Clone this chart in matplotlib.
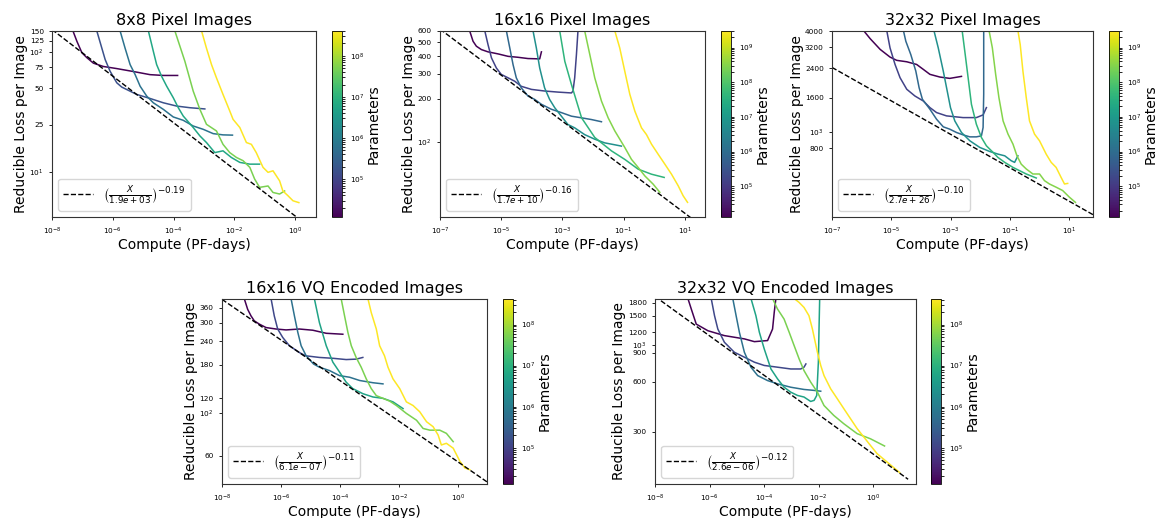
import matplotlib
matplotlib.use('Agg')
import matplotlib.pyplot as plt
from matplotlib.colors import LogNorm
import matplotlib.ticker as mticker
import numpy as np

# ---------------- data ----------------
titles = ['8x8 Pixel Images', '16x16 Pixel Images', '32x32 Pixel Images',
          '16x16 VQ Encoded Images', '32x32 VQ Encoded Images']

# model sizes (parameters) of the curves in each panel
p1_params = [1.2e4, 1.6e5, 6e5, 6e6, 5e7, 4e8]
p2_params = [1.3e4, 1.5e5, 8e5, 6e6, 4e7, 3e8, 3e9]
p3_params = [1.3e4, 1.5e5, 8e5, 6e6, 4e7, 3e8, 3e9]
p4_params = [1.3e4, 1.25e5, 6e5, 5.4e6, 5.2e7, 4.2e8]
p5_params = [1.3e4, 1.25e5, 6e5, 5.4e6, 5.2e7, 4.2e8]

# ---- panel 1: 8x8 pixel ----
p1_compute = [
    [4.9e-8, 6.6e-8, 9.6e-8, 1.4e-7, 2.3e-7, 4.9e-7, 1.35e-6, 4.75e-6, 1.67e-5, 4.6e-5, 1.35e-4],
    [2.98e-7, 5.6e-7, 8.1e-7, 1.35e-6, 1.97e-6, 6.1e-6, 1.67e-5, 4.6e-5, 1.25e-4, 3.4e-4, 1.06e-3],
    [1.74e-6, 2.53e-6, 3.7e-6, 5.4e-6, 7.9e-6, 1.3e-5, 2.15e-5, 4.6e-5, 9.7e-5, 2.07e-4, 4.4e-4,
     9.4e-4, 1.99e-3, 4.2e-3, 8.6e-3],
    [1.48e-5, 2.15e-5, 2.76e-5, 4.0e-5, 5.9e-5, 9.7e-5, 1.42e-4, 2.07e-4, 4.4e-4, 7.3e-4, 1.2e-3,
     2.26e-3, 4.2e-3, 7.9e-3, 1.5e-2, 3.2e-2, 6.7e-2],
    [1.1e-4, 2.34e-4, 4.4e-4, 7.3e-4, 1.2e-3, 2.56e-3, 4.2e-3, 7.0e-3, 1.16e-2, 1.92e-2, 3.2e-2,
     4.6e-2, 6.7e-2, 0.127, 0.185, 0.305, 0.446],
    [8.3e-4, 1.2e-3, 1.76e-3, 2.56e-3, 4.2e-3, 7.0e-3, 9.0e-3, 1.5e-2, 2.47e-2, 3.6e-2, 5.2e-2,
     8.7e-2, 0.127, 0.185, 0.305, 0.39, 0.57, 0.84, 1.31],
]
p1_loss = [
    [150, 123, 99, 90, 81, 76, 73, 69, 65, 64, 64],
    [150, 86.8, 69.5, 55.6, 51.2, 44.5, 41.2, 37.9, 35.6, 34.5, 33.7],
    [150, 108, 78.8, 65.2, 52.1, 43.1, 37.9, 33.4, 28.9, 27.1, 24.3, 22.8, 21.0, 20.5, 20.4],
    [150, 101.6, 78.8, 63.1, 52.1, 41.8, 34.5, 29.4, 23.6, 20.1, 17.7, 14.6, 15.1, 13.3, 12.1, 11.7, 11.7],
    [150, 84, 47.4, 33.4, 25.1, 22.1, 17.1, 14.6, 13.3, 12.5, 11.0, 8.8, 7.5, 7.7, 6.8, 6.6, 7.0],
    [150, 108, 78.8, 61.1, 44.5, 32.4, 27.6, 23.6, 17.7, 17.1, 14.6, 11.0, 10.0, 10.3, 8.5, 7.0,
     6.4, 5.8, 5.6],
]

# ---- panel 2: 16x16 pixel ----
p2_compute = [
    [9.3e-7, 1.2e-6, 1.54e-6, 2.25e-6, 3.7e-6, 7.9e-6, 1.67e-5, 3.5e-5, 7.5e-5, 1.8e-4, 2.05e-4],
    [2.9e-6, 3.7e-6, 4.8e-6, 6.9e-6, 1.0e-5, 1.67e-5, 2.75e-5, 4.5e-5, 9.7e-5, 2.6e-4, 7.2e-4,
     1.96e-3, 2.2e-3, 2.5e-3, 2.85e-3, 3.2e-3],
    [1.47e-5, 1.9e-5, 2.43e-5, 3.1e-5, 4.5e-5, 7.5e-5, 1.24e-4, 2.05e-4, 4.3e-4, 9.2e-4, 1.96e-3,
     4.2e-3, 8.8e-3, 1.87e-2],
    [1.09e-4, 1.4e-4, 1.8e-4, 2.6e-4, 3.8e-4, 5.6e-4, 9.2e-4, 1.5e-3, 2.5e-3, 5.3e-3, 1.13e-2,
     2.4e-2, 5.1e-2, 8.4e-2],
    [8.1e-4, 1.19e-3, 1.96e-3, 4.2e-3, 1.13e-2, 4.0e-2, 0.108, 0.296, 0.805, 2.09],
    [5.3e-3, 7.8e-3, 1.13e-2, 1.87e-2, 3.1e-2, 5.1e-2, 0.108, 0.179, 0.296, 0.488, 0.914, 1.51],
    [5.1e-2, 7.4e-2, 0.108, 0.158, 0.23, 0.38, 0.553, 0.805, 1.33, 2.2, 3.63, 6.0, 8.7, 12.1],
]
p2_loss = [
    [602, 508, 469, 444, 428, 414, 398, 392, 384, 382, 428],
    [602, 481, 388, 330, 297, 281, 266, 245, 233, 227, 223, 220, 227, 281, 409, 602],
    [602, 456, 348, 281, 239, 209, 198, 183, 169, 160, 151, 147, 143, 138],
    [602, 456, 330, 239, 198, 173, 151, 132, 125, 112, 104, 98, 95, 93],
    [602, 367, 252, 147, 107, 86, 75, 64, 59, 56],
    [602, 409, 281, 193, 147, 119, 91, 75, 65.8, 57.4, 50.2, 44],
    [602, 456, 313, 215, 164, 125, 112, 96, 81.5, 69.4, 59, 48.9, 41.6, 37.4],
]

# ---- panel 3: 32x32 pixel ----
p3_compute = [
    [1.15e-6, 1.93e-6, 4.2e-6, 9.0e-6, 1.51e-5, 3.3e-5, 7.1e-5, 1.19e-4, 1.99e-4, 4.3e-4, 9.3e-4, 2.3e-3],
    [6.98e-6, 9.0e-6, 1.33e-5, 1.96e-5, 3.3e-5, 6.2e-5, 1.19e-4, 1.99e-4, 3.33e-4, 7.2e-4, 2.6e-3,
     7.3e-3, 1.23e-2, 1.59e-2],
    [2.54e-5, 3.07e-5, 4.5e-5, 6.65e-5, 8.6e-5, 1.11e-4, 1.99e-4, 3.33e-4, 5.6e-4, 9.3e-4, 1.56e-3,
     2.6e-3, 4.4e-3, 7.3e-3, 1.08e-2, 1.23e-2, 1.29e-2, 1.29e-2],
    [2.71e-4, 3.79e-4, 5.6e-4, 7.6e-4, 9.8e-4, 1.37e-3, 2.3e-3, 4.4e-3, 9.5e-3, 2.06e-2, 3.9e-2,
     6.6e-2, 0.109, 0.142, 0.183],
    [2.42e-3, 2.97e-3, 3.85e-3, 4.98e-3, 7.3e-3, 1.08e-2, 1.59e-2, 2.66e-2, 3.9e-2, 6.6e-2, 0.125,
     0.209, 0.35, 0.76],
    [1.95e-2, 2.52e-2, 3.26e-2, 4.2e-2, 5.8e-2, 8.5e-2, 0.125, 0.17, 0.237, 0.35, 0.585, 0.98, 1.44,
     2.12, 3.55, 5.9, 9.95, 15.9],
    [0.183, 0.219, 0.27, 0.35, 0.45, 0.665, 0.98, 1.64, 2.42, 3.55, 5.2, 6.8, 8.7],
]
p3_loss = [
    [4030, 3600, 3105, 2795, 2672, 2620, 2525, 2360, 2204, 2124, 2085, 2143],
    [4030, 3175, 2525, 2105, 1795, 1637, 1528, 1395, 1303, 1245, 1216, 1216, 1262, 1395],
    [4030, 3475, 2897, 2307, 1835, 1565, 1364, 1189, 1071, 1037, 991, 959, 933, 933, 946, 1061, 1675, 4030],
    [4030, 3175, 2307, 1754, 1395, 1162, 991, 884, 807, 763, 736, 719, 672, 657, 719],
    [4030, 3035, 2105, 1460, 1110, 925, 825, 754, 703, 657, 613, 586, 560, 530],
    [4030, 3175, 2204, 1600, 1162, 969, 844, 719, 641, 600, 560, 560, 511, 488, 467, 446, 407, 379],
    [4030, 3320, 2307, 1600, 1162, 969, 884, 736, 657, 613, 535, 488, 492],
]

# ---- panel 4: 16x16 VQ ----
p4_compute = [
    [5.7e-8, 7.4e-8, 9.6e-8, 1.24e-7, 1.84e-7, 3.1e-7, 6.8e-7, 1.48e-6, 4.2e-6, 1.19e-5, 3.4e-5, 1.24e-4],
    [4.6e-7, 5.9e-7, 7.7e-7, 1.14e-6, 1.92e-6, 4.2e-6, 6.8e-6, 2.0e-5, 5.7e-5, 1.61e-4, 3.5e-4, 5.9e-4],
    [2.19e-6, 2.84e-6, 3.7e-6, 4.8e-6, 7.1e-6, 1.26e-5, 2.0e-5, 4.4e-5, 9.6e-5, 2.1e-4, 4.6e-4,
     1.3e-3, 2.84e-3],
    [1.35e-5, 2.0e-5, 3.4e-5, 5.7e-5, 9.6e-5, 1.61e-4, 2.7e-4, 5.9e-4, 1.3e-3, 2.84e-3, 6.2e-3, 1.36e-2],
    [1.09e-4, 1.42e-4, 1.84e-4, 2.4e-4, 3.5e-4, 5.2e-4, 7.7e-4, 1.14e-3, 1.69e-3, 2.84e-3, 4.8e-3,
     8.1e-3, 1.76e-2, 3.9e-2, 6.5e-2, 0.11, 0.239, 0.40, 0.68],
    [8.8e-4, 1.14e-3, 1.69e-3, 2.19e-3, 3.2e-3, 4.2e-3, 6.2e-3, 1.05e-2, 1.76e-2, 2.97e-2, 5.0e-2,
     8.5e-2, 0.142, 0.21, 0.27, 0.40, 0.68, 1.15, 1.69, 2.5],
]
p4_loss = [
    [401, 353, 326, 307, 295, 283, 278, 275, 278, 274, 264, 261],
    [401, 326, 278, 251, 227, 209, 201, 197, 195, 192, 193, 197],
    [401, 326, 267, 227, 201, 182, 175, 168, 158, 155, 149, 145, 143],
    [401, 300, 227, 186, 165, 146, 135, 127, 122, 120, 115, 106],
    [401, 326, 267, 227, 197, 175, 152, 135, 124, 120, 116, 110, 100, 92, 83.3, 81.6, 81.6, 78.5, 71],
    [401, 339, 278, 227, 201, 175, 152, 135, 115, 110, 102, 90.4, 85.1, 76.9, 68.2, 69.6, 65.6,
     55.9, 51.6, 50.5],
]

# ---- panel 5: 32x32 VQ ----
p5_compute = [
    [1.61e-7, 2.14e-7, 3.25e-7, 8.7e-7, 3.5e-6, 1.89e-5, 4.4e-5, 1.34e-4, 2.04e-4, 2.35e-4, 2.7e-4],
    [1.15e-6, 1.52e-6, 2.01e-6, 3.5e-6, 8.1e-6, 1.89e-5, 4.4e-5, 1.01e-4, 3.1e-4, 9.5e-4, 2.2e-3,
     2.9e-3, 3.4e-3],
    [7.1e-6, 9.4e-6, 1.24e-5, 1.89e-5, 3.3e-5, 5.8e-5, 1.34e-4, 3.1e-4, 9.5e-4, 2.9e-3, 6.8e-3, 1.19e-2],
    [3.3e-5, 5.0e-5, 6.7e-5, 1.01e-4, 1.78e-4, 3.1e-4, 5.4e-4, 9.5e-4, 1.67e-3, 2.9e-3, 5.1e-3,
     6.8e-3, 8.5e-3, 9.75e-3, 1.03e-2, 1.09e-2],
    [2.04e-4, 3.1e-4, 4.1e-4, 5.4e-4, 8.3e-4, 1.26e-3, 1.92e-3, 2.9e-3, 5.1e-3, 9.0e-3, 1.57e-2,
     3.6e-2, 8.4e-2, 0.258, 0.79, 2.6],
    [1.26e-3, 1.92e-3, 2.9e-3, 4.4e-3, 5.9e-3, 9.0e-3, 1.19e-2, 1.57e-2, 2.75e-2, 4.8e-2, 8.4e-2,
     0.148, 0.258, 0.45, 0.79, 1.39, 3.2, 9.3],
]
p5_loss = [
    [1913, 1652, 1340, 1222, 1142, 1091, 1050, 1066, 1251, 1577, 1913],
    [1913, 1507, 1251, 1041, 906, 846, 789, 754, 736, 718, 718, 736, 770],
    [1913, 1507, 1196, 906, 736, 655, 611, 584, 557, 540, 533, 527],
    [1913, 1507, 1196, 949, 718, 626, 557, 520, 497, 486, 457, 464, 497, 789, 1251, 1913],
    [1913, 1652, 1541, 1437, 1196, 994, 826, 702, 598, 520, 432, 376, 335, 292, 272, 246],
    [1913, 1811, 1690, 1507, 1251, 906, 754, 655, 545, 475, 413, 359, 313, 279, 248, 221, 197, 170],
]

# power-law trend lines (as drawn) and their legend texts
line_alpha = [0.194, 0.162, 0.100, 0.107, 0.119]
line_x0 = [1.9e3, 1.7e10, 7.0e26, 2.0e16, 4.8e19]
line_xmax = [10, 100, 100, 10, 19]
legend_x0 = ['1.9e+03', '1.7e+10', '2.7e+26', '6.1e-07', '2.6e-06']
legend_exp = ['0.19', '0.16', '0.10', '0.11', '0.12']

xlims = [(1e-8, 4.8), (1e-7, 45), (1e-7, 62), (1e-8, 9.5), (1e-8, 37)]
ylims = [(4.25, 150), (29.5, 600), (310, 4000), (42.5, 400), (145, 1900)]
xticks = [[1e-8, 1e-6, 1e-4, 1e-2, 1e0],
          [1e-7, 1e-5, 1e-3, 1e-1, 1e1],
          [1e-7, 1e-5, 1e-3, 1e-1, 1e1],
          [1e-8, 1e-6, 1e-4, 1e-2, 1e0],
          [1e-8, 1e-6, 1e-4, 1e-2, 1e0]]
yminor = [[25, 50, 75, 125, 150],
          [200, 300, 400, 500, 600],
          [800, 1600, 2400, 3200, 4000],
          [60, 120, 180, 240, 300, 360],
          [300, 600, 900, 1200, 1500, 1800]]

all_params = [p1_params, p2_params, p3_params, p4_params, p5_params]
all_compute = [p1_compute, p2_compute, p3_compute, p4_compute, p5_compute]
all_loss = [p1_loss, p2_loss, p3_loss, p4_loss, p5_loss]

# ---------------- layout (figure fractions) ----------------
W, H = 1156, 518
ax_px = [(52, 31, 316, 217), (440, 31, 705, 217), (832, 31, 1093, 217),
         (222, 299, 487, 484), (655, 299, 916, 484)]
cb_px = [(332, 342), (721, 731), (1109, 1119), (503, 513), (931, 941)]

fig = plt.figure(figsize=(W / 100, H / 100), dpi=100)

for i in range(5):
    x0, y0, x1, y1 = ax_px[i]
    ax = fig.add_axes([x0 / W, 1 - y1 / H, (x1 - x0) / W, (y1 - y0) / H])
    c0, c1 = cb_px[i]
    cax = fig.add_axes([c0 / W, 1 - y1 / H, (c1 - c0) / W, (y1 - y0) / H])

    params = all_params[i]
    norm = LogNorm(vmin=min(params), vmax=max(params))
    cmap = plt.get_cmap('viridis')

    for p, cx, ly in zip(params, all_compute[i], all_loss[i]):
        ax.plot(cx, ly, color=cmap(norm(p)), lw=1.1)

    xs = np.logspace(np.log10(xlims[i][0]), np.log10(line_xmax[i]), 200)
    ax.plot(xs, (xs / line_x0[i]) ** (-line_alpha[i]), 'k--', lw=1.0,
            label=r'$\left(\frac{X}{%s}\right)^{-%s}$' % (legend_x0[i], legend_exp[i]))

    ax.set_xscale('log')
    ax.set_yscale('log')
    ax.set_xlim(*xlims[i])
    ax.set_ylim(*ylims[i])
    ax.set_xticks(xticks[i])
    ax.xaxis.set_major_formatter(mticker.LogFormatterSciNotation())
    ax.xaxis.set_minor_locator(mticker.NullLocator())
    ax.set_yticks(yminor[i], minor=True)
    ax.set_yticklabels([str(v) for v in yminor[i]], minor=True)
    ax.tick_params(which='both', labelsize=5.3, length=2.5, width=0.6)
    for sp in ax.spines.values():
        sp.set_linewidth(0.8)
        sp.set_color('#333333')

    ax.set_title(titles[i], fontsize=11.5, pad=4)
    ax.set_xlabel('Compute (PF-days)', fontsize=10, labelpad=1)
    ax.set_ylabel('Reducible Loss per Image', fontsize=10, labelpad=1)
    ax.legend(loc='lower left', fontsize=9, handlelength=2.4)

    sm = plt.cm.ScalarMappable(norm=norm, cmap=cmap)
    cb = fig.colorbar(sm, cax=cax)
    cb.set_label('Parameters', fontsize=10, labelpad=1.5)
    cb.ax.tick_params(which='both', labelsize=5.3, length=2, width=0.6)
    cb.outline.set_linewidth(0.6)

fig.savefig('out.png', dpi=100)
